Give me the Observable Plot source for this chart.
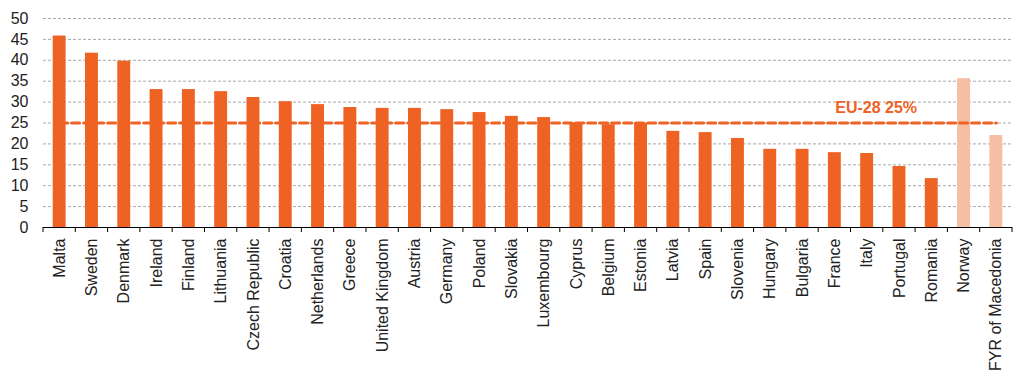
<!DOCTYPE html>
<html>
<head>
<meta charset="utf-8">
<script src="https://cdn.jsdelivr.net/npm/d3@7"></script>
<script src="https://cdn.jsdelivr.net/npm/@observablehq/plot@0.6"></script>
<style>
  html, body { margin: 0; padding: 0; background: #fff; }
</style>
</head>
<body>
<div id="chart"></div>
<script>
const countries = ["Malta","Sweden","Denmark","Ireland","Finland","Lithuania","Czech Republic","Croatia","Netherlands","Greece","United Kingdom","Austria","Germany","Poland","Slovakia","Luxembourg","Cyprus","Belgium","Estonia","Latvia","Spain","Slovenia","Hungary","Bulgaria","France","Italy","Portugal","Romania","Norway","FYR of Macedonia"];
const values = [45.8,41.7,39.8,33.0,33.0,32.5,31.1,30.1,29.4,28.7,28.5,28.5,28.2,27.5,26.6,26.3,25.0,24.6,24.9,23.0,22.7,21.3,18.7,18.7,17.9,17.7,14.6,11.7,35.6,22.0];
const nonEU = ["Norway","FYR of Macedonia"];
const euAverage = 25;
const euLabel = "EU-28 25%";
const yTicks = [0,5,10,15,20,25,30,35,40,45,50];

const ORANGE = "#EE6324";
const LIGHT = "#F6BEA2";

const data = countries.map((c, i) => ({country: c, value: values[i]}));

const boundaryTicks = (index, scales, vals, dims) => {
  const g = d3.create("svg:g");
  const left = dims.marginLeft, right = dims.width - dims.marginRight;
  const n = countries.length;
  const step = (right - left) / n;
  const y0 = scales.y(0);
  for (let i = 0; i <= n; i++) {
    const x = left + step * i;
    g.append("line").attr("x1", x).attr("x2", x).attr("y1", y0).attr("y2", y0 + 5)
      .attr("stroke", "#000").attr("stroke-width", 1);
  }
  return g.node();
};

const chart = Plot.plot({
  width: 1032,
  height: 387,
  marginLeft: 43,
  marginRight: 20,
  marginTop: 18,
  marginBottom: 160,
  style: {fontFamily: "'Liberation Sans', Arial, sans-serif", fontSize: "16px", color: "#222", background: "#fff"},
  x: {domain: countries, paddingInner: 0.6, paddingOuter: 0.3, round: false, label: null},
  y: {domain: [0, 50], label: null},
  marks: [
    Plot.ruleY(yTicks.filter(d => d > 0), {stroke: "#a8a8a8", strokeWidth: 1, strokeDasharray: "3,2"}),
    Plot.barY(data, {x: "country", y: "value", fill: d => nonEU.includes(d.country) ? LIGHT : ORANGE}),
    Plot.ruleY([0], {stroke: "#000", strokeWidth: 1.2}),
    boundaryTicks,
    Plot.lineY(countries, {x: d => d, y: () => euAverage, stroke: ORANGE, strokeWidth: 3, strokeDasharray: "8,4"}),
    Plot.text([euLabel], {x: () => "Italy", y: () => euAverage, text: d => d, dx: 9, dy: -15, fill: ORANGE, fontWeight: "bold", fontSize: 16}),
    Plot.axisY({ticks: yTicks, tickSize: 0, tickPadding: 15, label: null, fill: "#222"}),
    Plot.axisX({tickRotate: -90, tickSize: 0, tickPadding: 11, label: null, fill: "#222"})
  ]
});
document.getElementById("chart").appendChild(chart);
</script>
</body>
</html>
